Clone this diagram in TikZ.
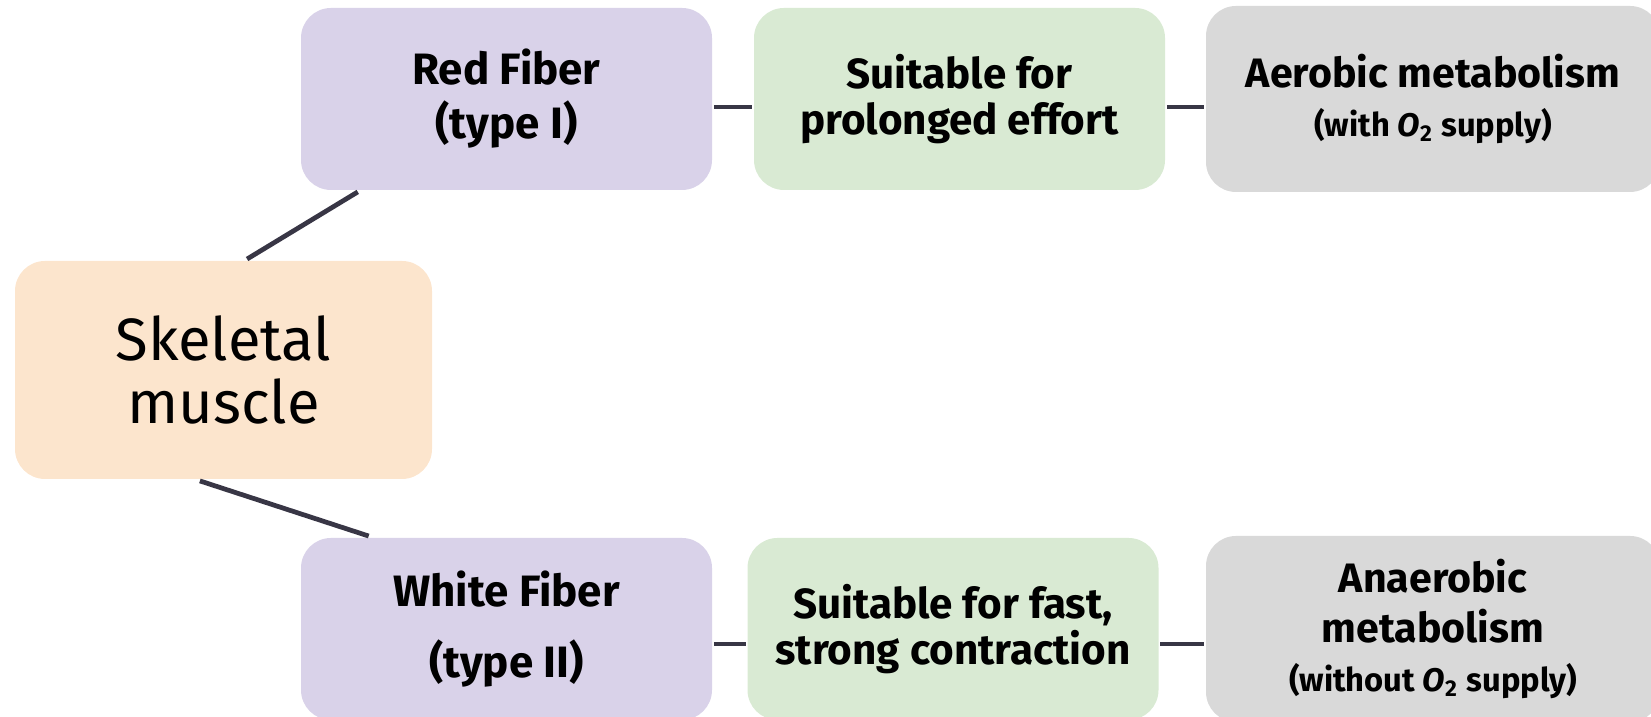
\documentclass[tikz,border=0pt]{standalone}
\usepackage{fontspec}
\setmainfont{Fira Sans}
\definecolor{peach}{HTML}{FCE5CD}
\definecolor{lilac}{HTML}{D9D2E9}
\definecolor{mint}{HTML}{D9EAD3}
\definecolor{metabgray}{HTML}{D9D9D9}
\definecolor{linkgray}{HTML}{383645}
\tikzset{
every picture/.style={line width=1.1pt},
%%%%%%%%%%  Node styles
block/.style={rounded corners=0.3cm, align=center, inner sep=2pt,
              minimum width=4.11cm, minimum height=1.82cm},
rootblock/.style={block, fill=peach, minimum width=4.17cm,
                  minimum height=2.18cm, font=\fontsize{17}{18}\selectfont},
fiber/.style={block, fill=lilac, font=\bfseries\fontsize{12.5}{15.4}\selectfont},
usage/.style={block, fill=mint, font=\bfseries\fontsize{12}{13}\selectfont},
metab/.style={block, fill=metabgray, minimum width=4.54cm,
              minimum height=1.86cm, font=\bfseries\fontsize{11.7}{14}\selectfont},
%%%% line style
link/.style={draw=linkgray, line width=1.35pt},
}
\newcommand{\Otwo}{\textit{O}\textsubscript{2}}
\newcommand{\subnote}{\fontsize{9.3}{10}\selectfont}

\begin{document}
\begin{tikzpicture}
\clip (0,0) rectangle (16.51,7.17);
\node[rootblock] (skel) at (2.235,3.47) {Skeletal\\muscle};
\node[fiber] (red) at (5.065,6.18) {Red Fiber\\(type I)};
\node[usage] (slow) at (9.595,6.18) {Suitable for\\prolonged effort};
\node[metab] (aero) at (14.33,6.18) {Aerobic metabolism\\{\subnote(with \Otwo{} supply)}};
\node[fiber,font=\bfseries\fontsize{12.5}{20}\selectfont] (white) at (5.065,0.88) {White Fiber\\(type II)};
\node[usage] (fast) at (9.53,0.88) {Suitable for fast,\\strong contraction};
\node[metab] (anaero) at (14.33,0.88) {Anaerobic\\metabolism\\{\subnote(without \Otwo{} supply)}};
\draw[link] (skel.78) -- (red.212);
\draw[link] (skel.258) -- (white.146);
\draw[link] ([yshift=-0.08cm]red.east) -- ([yshift=-0.08cm]slow.west);
\draw[link] ([yshift=-0.08cm]slow.east) -- ([yshift=-0.08cm]aero.west);
\draw[link] ([yshift=-0.15cm]white.east) -- ([yshift=-0.15cm]fast.west);
\draw[link] ([yshift=-0.15cm]fast.east) -- ([yshift=-0.15cm]anaero.west);
\end{tikzpicture}
\end{document}
